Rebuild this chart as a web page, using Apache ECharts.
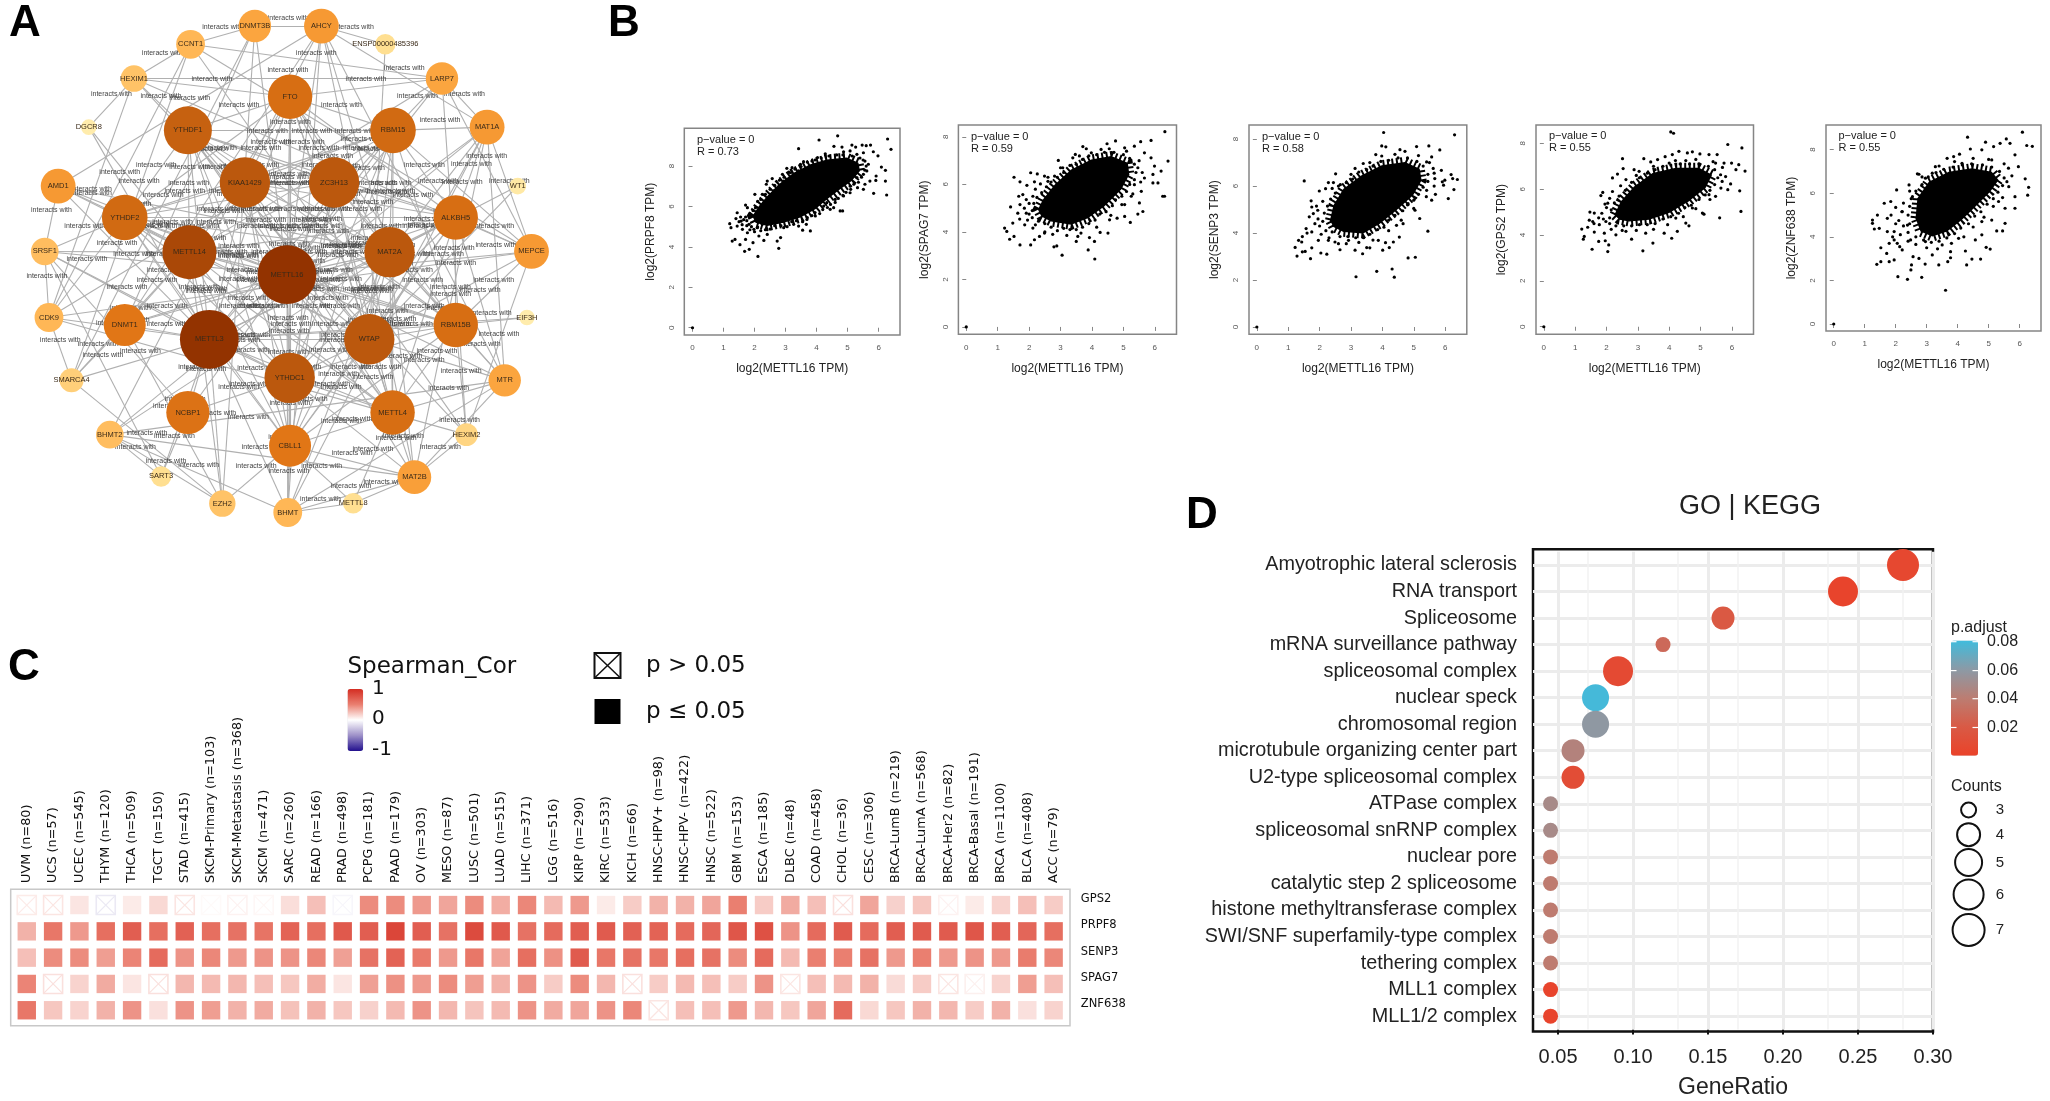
<!DOCTYPE html>
<html>
<head>
<meta charset="utf-8">
<title>METTL16 figure</title>
<script src="https://cdn.jsdelivr.net/npm/echarts@6/dist/echarts.min.js"></script>
<style>
  html, body { margin: 0; padding: 0; background: #fff; }
  #main { width: 2050px; height: 1101px; }
</style>
</head>
<body>
<div id="main"></div>
<script>
// A 网络图
var nodeNames = ['DNMT3B','AHCY','CCNT1','ENSP00000485396','HEXIM1','FTO','LARP7','YTHDF1','RBM15','MAT1A','DGCR8','KIAA1429','ZC3H13','AMD1','WT1','YTHDF2','ALKBH5','SRSF1','METTL14','MAT2A','MEPCE','METTL16','CDK9','DNMT1','EIF3H','RBM15B','METTL3','WTAP','SMARCA4','YTHDC1','MTR','NCBP1','METTL4','BHMT2','HEXIM2','CBLL1','SART3','MAT2B','EZH2','BHMT','METTL8']
var nodeX = [666,840,498,1007,350,758,1155,491,1027,1273,232,640,873,152,1353,326,1191,117,495,1018,1389,750,128,326,1377,1191,547,965,187,757,1319,491,1026,287,1219,758,421,1083,581,752,923]
var nodeY = [73,73,124,124,220,271,220,365,365,356,356,511,511,521,521,609,609,704,706,706,704,769,889,910,889,910,950,950,1065,1058,1065,1155,1155,1217,1217,1248,1334,1336,1410,1435,1409]
var nodeDegree = [17,19,14,7,12,27,17,30,28,19,3,32,32,19,4,28,27,13,35,32,19,39,14,25,3,27,39,32,10,32,17,26,27,13,9,25,7,18,12,14,7]
// 互相全连的几组节点
var linkGroups = [
  ['METTL16','METTL3','METTL14','WTAP','KIAA1429','ZC3H13','RBM15','RBM15B','CBLL1','YTHDC1','YTHDF1','YTHDF2','FTO','ALKBH5','MAT2A','METTL4'],
  ['MEPCE','LARP7','HEXIM1','HEXIM2','CCNT1','CDK9'],
  ['AHCY','MAT1A','MAT2A','MAT2B','MTR','BHMT','BHMT2'],
  ['DNMT1','DNMT3B','EZH2','SMARCA4']
]
var extraLinks = [
  ['METTL16','MAT1A'],['METTL16','MAT2B'],['METTL16','MTR'],['METTL16','AHCY'],['METTL16','BHMT'],
  ['METTL16','DNMT1'],['METTL16','DNMT3B'],['METTL16','AMD1'],['METTL16','MEPCE'],['METTL16','LARP7'],['METTL16','NCBP1'],
  ['METTL16','SRSF1'],['METTL3','DNMT1'],['METTL3','NCBP1'],['METTL3','EZH2'],['METTL3','SRSF1'],['METTL3','CDK9'],
  ['METTL3','DGCR8'],['METTL3','SMARCA4'],['METTL3','AMD1'],['METTL3','SART3'],
  ['METTL3','EIF3H'],['METTL3','BHMT'],['METTL14','DGCR8'],['METTL14','EZH2'],['METTL14','AMD1'],
  ['METTL14','SMARCA4'],['METTL14','DNMT1'],['METTL14','SRSF1'],
  ['MAT2A','AMD1'],['MAT2A','DNMT1'],['MAT2A','WT1'],['AHCY','DNMT1'],['AHCY','DNMT3B'],['AHCY','AMD1'],
  ['AHCY','ENSP00000485396'],['WTAP','WT1'],['WTAP','ENSP00000485396'],['WTAP','MEPCE'],['WTAP','MTR'],
  ['WTAP','MAT1A'],['ALKBH5','MAT1A'],['ALKBH5','MEPCE'],['ALKBH5','MTR'],
  ['RBM15','MAT1A'],['RBM15','LARP7'],['RBM15','MEPCE'],['RBM15B','EIF3H'],['RBM15B','MEPCE'],['RBM15B','HEXIM2'],
  ['RBM15B','MTR'],['FTO','LARP7'],['FTO','HEXIM1'],['YTHDF1','HEXIM1'],
  ['YTHDF2','AMD1'],['YTHDF2','SRSF1'],['YTHDF2','CDK9'],['YTHDC1','SRSF1'],['YTHDC1','MAT2B'],
  ['YTHDC1','BHMT'],['YTHDC1','NCBP1'],['CBLL1','BHMT'],['CBLL1','MAT2B'],['CBLL1','METTL8'],['CBLL1','EZH2'],
  ['NCBP1','SRSF1'],['NCBP1','SART3'],['METTL4','MAT2B'],['METTL4','METTL8'],
  ['METTL4','MTR'],['BHMT','METTL8'],['MAT2B','METTL8'],['MAT2B','HEXIM2'],['SART3','SRSF1'],['SART3','BHMT2'],
  ['EZH2','BHMT2'],['SRSF1','CDK9'],['SRSF1','AMD1'],['CDK9','SMARCA4'],['HEXIM1','DGCR8'],['MEPCE','MAT1A'],
  ['LARP7','MAT1A'],['CCNT1','SMARCA4'],['DNMT3B','CCNT1']
]

// B 散点图：云团外轮廓 + 边缘的点
var scatterGenes = ['PRPF8','SPAG7','SENP3','GPS2','ZNF638']
var scatterR = ['0.73','0.59','0.58','0.55','0.55']
var prpf8Core = [[1.93,5.53],[2.14,6.02],[2.41,6.52],[2.78,7.1],[3.26,7.67],[3.8,8.09],[4.33,8.33],[4.97,8.42],[5.35,8.17],[5.4,7.76],[5.13,7.26],[4.76,6.85],[4.33,6.35],[3.96,5.86],[3.48,5.45],[2.94,5.2],[2.41,5.03],[2.03,5.2]]
var prpf8Points = [[0,0],[4.68,9.5],[4.08,9.29],[3.42,8.86],[6.29,9.34],[6.4,8.83],[4.56,8.98],[5.14,9.04],[5.26,8.94],[5.47,9.04],[5.6,9.01],[5.74,9.04],[4.82,8.94],[5.83,8.71],[5.98,8.51],[6.09,7.95],[6.22,7.79],[5.92,7.51],[5.91,7.29],[6.22,7.26],[5.84,6.65],[6.26,6.57],[5.62,7.76],[5.56,7.1],[5.72,7.26],[5.32,6.93],[5.51,6.85],[5.08,6.68],[4.76,5.78],[4.84,5.78],[4.55,5.94],[4.33,6.19],[4.44,5.86],[3.8,4.79],[3.55,4.83],[3.67,5.12],[2.94,4.95],[2.84,4.46],[2.78,3.93],[2.11,3.53],[1.95,4.21],[1.83,3.88],[1.68,3.78],[1.53,4.11],[1.37,4.37],[1.28,4.29],[1.71,4.37],[1.77,4.7],[1.2,5.15],[1.24,4.95],[1.44,5.03],[1.57,5.28],[1.44,5.69],[1.71,6.07],[1.77,5.94],[2.01,6.6],[2.25,6.6],[2.38,7.1],[2.57,7.38],[2.41,7.26],[2.9,7.59],[3.04,7.89],[3.21,7.92],[3.48,8.09],[3.58,8.22],[3.85,8.25],[4.28,8.61],[4.03,8.42],[4.87,8.71],[5.08,8.75],[5.3,8.58],[5.51,8.66],[2.14,4.54],[2.41,4.62],[2.3,4.32],[2.73,4.29],[3.26,5.12],[3.42,5.03],[1.98,4.87],[1.61,4.87],[1.82,5.12],[2.09,4.95],[1.71,5.48],[1.55,5.48],[2.03,5.94],[2.3,6.19],[2.62,6.77],[2.94,7.26],[3.16,7.67],[3.42,7.76],[5.56,8.25],[5.67,8.09],[5.51,7.59],[5.3,7.43],[5.08,7.01],[4.87,6.52],[4.6,6.35],[4.23,6.02],[3.96,5.53],[3.69,5.36],
  [2.1,4.98],[2.25,5.12],[2.5,4.88],[2.65,5.05],[2.85,5.05],[3.05,5],[3.2,5.25],[3.35,5.3],[3.55,5.25],[3.7,5.45],[3.85,5.55],[3.95,5.7],[4.1,5.65],[4.2,5.85],[4.35,5.95],[4.45,6.1],[4.6,6.2],[4.7,6.4],[4.85,6.55],[4.95,6.7],[5.1,6.85],[5.2,7.1],[5.35,7.2],[5.45,7.45],[5.55,7.8],[5.6,8],[1.75,5.3],[1.85,5.65],[1.95,5.8],[2.1,6.25],[2.2,6.35],[2.35,6.6],[2.5,6.85],[2.65,7.05],[2.8,7.3],[2.95,7.45],[3.1,7.7],[3.3,7.85],[3.5,7.98],[3.7,8.2],[3.95,8.3],[4.15,8.4],[4.4,8.5],[4.65,8.55],[4.85,8.55],[5.15,8.5],[5.4,8.4],[5.5,8.3],[1.6,5.1],[1.75,5.05],[1.9,5],[1.85,4.85],[2,4.75],[2.2,4.8],[2.35,4.85],[1.5,5.25],[1.65,5.35],[1.4,5.4]]
var spag7Core = [[2.28,4.94],[2.44,5.36],[2.81,5.99],[3.34,6.63],[3.98,7.05],[4.61,7.19],[5.14,6.91],[5.19,6.42],[4.93,5.78],[4.4,5.08],[3.87,4.58],[3.34,4.3],[2.7,4.44],[2.39,4.65]]
var spag7Points = [[0,0],[6.32,8.22],[6.42,6.98],[5.88,7.85],[5.55,7.8],[4.75,7.83],[4.48,7.71],[3.71,7.59],[3.82,7.5],[2.93,7.01],[3.47,7.26],[3.39,7.12],[1.52,6.3],[2.05,6.49],[2.26,6.44],[2.49,6.35],[1.71,6.11],[1.93,5.96],[2.17,6.11],[1.8,5.57],[1.67,5.5],[1.71,5.15],[1.41,5.05],[1.91,5.36],[2.12,5.5],[2.36,6.02],[2.6,6.13],[2.81,6.35],[3.07,6.7],[3.98,7.33],[4.29,7.47],[5.04,7.54],[5.35,7.61],[5.67,7.33],[5.88,7.12],[5.99,6.77],[6.2,6.56],[5.94,6.42],[6.1,6.06],[5.94,6.06],[5.67,6.27],[5.57,5.71],[6.25,5.5],[6.31,5.5],[5.51,5.22],[5.62,4.86],[5.46,4.75],[5.04,4.65],[5.22,4.4],[4.8,4.58],[4.56,4.51],[4.51,3.95],[4.26,3.98],[4.08,3.6],[3.92,3.76],[4.09,2.86],[3.88,3.24],[3.5,3.6],[3.55,3.81],[3.05,3.02],[2.88,3.41],[2.79,3.37],[2.49,3.95],[2.33,3.81],[2.05,3.45],[2.17,3.67],[1.71,3.45],[1.38,3.69],[1.52,3.81],[1.22,4.16],[1.29,4.02],[1.48,4.37],[1.7,4.54],[1.86,4.3],[2.12,4.16],[1.64,4.79],[1.91,4.79],[5.04,5.15],[5.25,5.5],[5.35,5.99],[5.46,6.7],
  [2.1,4.9],[2.15,5.2],[2.25,5.45],[2.4,5.65],[2.55,5.9],[2.7,6.1],[2.9,6.3],[3.1,6.5],[3.3,6.8],[3.5,6.85],[3.7,7.05],[3.9,7.2],[4.15,7.25],[4.4,7.35],[4.7,7.35],[5,7.25],[5.2,7.1],[5.35,6.85],[5.4,6.5],[5.35,6.2],[5.2,6],[5.1,5.7],[4.95,5.5],[4.75,5.35],[4.65,5.1],[4.45,4.85],[4.25,4.75],[4.1,4.5],[3.9,4.35],[3.7,4.2],[3.5,4.1],[3.3,4.1],[3.1,4.15],[2.9,4.05],[2.7,4.2],[2.5,4.35],[2.3,4.45],[2.1,4.6],[2,4.75],[1.85,5],[2,5.2],[1.95,4.5],[2.2,4.3],[2.5,4],[2.75,3.9],[3.2,3.85],[3.65,3.95],[4.15,4.2],[4.6,4.7],[4.95,5.15],[5.3,5.6],[5.55,6.1],[5.6,6.5],[5.5,7],[5.1,7.4],[4.55,7.5],[3.6,7.2],[3,6.7],[2.6,6.3],[2.2,5.8]]
var senp3Core = [[2.33,4.54],[2.44,5.18],[2.76,5.89],[3.34,6.46],[3.98,6.89],[4.72,7.03],[5.19,6.74],[5.25,6.25],[4.98,5.61],[4.45,4.97],[3.92,4.4],[3.39,3.98],[2.76,4.05],[2.44,4.26]]
var senp3Points = [[0,0],[4.04,8.28],[6.3,8.18],[3.98,7.71],[4.11,7.67],[3.79,7.34],[3.98,7.28],[4.56,7.55],[4.72,7.48],[5.09,7.68],[5.48,7.71],[5.83,7.54],[5.57,7.24],[1.51,6.22],[2.51,6.52],[3.39,6.96],[3.13,6.75],[2.28,6.15],[2.44,6.15],[2.66,6.06],[1.99,5.79],[2.19,5.89],[1.73,5.37],[1.75,5.11],[1.94,4.97],[1.67,4.69],[1.8,4.83],[1.57,4.19],[1.75,4.05],[1.33,3.69],[1.43,3.62],[1.22,3.39],[1.28,3.02],[1.45,3.2],[1.71,2.91],[1.75,3.37],[1.54,3.22],[2.04,3.15],[2.23,3.1],[1.96,3.69],[2.28,3.69],[2.65,3.29],[2.49,3.62],[3.13,3.27],[3.37,3.12],[3.5,3.38],[3.6,3.37],[3.16,2.14],[3.82,2.37],[4.31,2.47],[4.38,2.12],[4.82,2.94],[5.05,2.97],[4.01,3.27],[4.22,3.38],[4.1,3.59],[4.35,3.62],[4.54,3.83],[4.66,4.4],[5.19,4.62],[5.45,4.08],[5.04,4.97],[5.57,5.4],[5.69,5.65],[6.1,5.47],[6.28,5.85],[5.95,6.04],[5.99,6.25],[6.39,6.28],[6.24,6.32],[6.19,6.49],[5.88,6.67],[5.91,6.18],[5.41,7.03],[5.62,6.75],[5.67,6.32],[5.41,5.82],[4.82,5.25],[4.45,4.33],[2.92,3.69],[3.87,3.69],
  [2.1,4.5],[2.15,4.85],[2.25,5.15],[2.35,5.45],[2.5,5.7],[2.6,6],[2.85,6.15],[3.05,6.3],[3.25,6.6],[3.5,6.7],[3.7,6.85],[3.95,7.05],[4.2,7.1],[4.5,7.2],[4.8,7.2],[5.1,7.05],[5.3,6.85],[5.45,6.5],[5.45,6.2],[5.3,5.95],[5.15,5.65],[5,5.4],[4.8,5.2],[4.65,4.95],[4.4,4.75],[4.2,4.55],[4.05,4.25],[3.85,4.15],[3.6,3.95],[3.4,3.8],[3.15,3.8],[2.9,3.85],[2.65,3.85],[2.4,4.05],[2.2,4.1],[2,4.3],[1.95,4.6],[1.85,4.4],[2.05,3.95],[2.3,3.8],[2.6,3.55],[2.85,3.55],[3.25,3.6],[3.7,3.7],[4.2,4.1],[4.6,4.55],[5,5.05],[5.4,5.55],[5.65,6],[5.65,6.55],[5.5,7],[5.15,7.3],[4.4,7.35],[3.6,7],[3,6.5],[2.4,5.9],[2.1,5.35],[1.9,5.15],[1.6,4],[1.45,3.85]]
var gps2Core = [[2.25,4.88],[2.46,5.47],[2.88,6.12],[3.47,6.71],[4.21,6.93],[4.95,6.93],[5.37,6.63],[5.16,6.05],[4.63,5.47],[4,4.96],[3.36,4.67],[2.72,4.59],[2.41,4.67]]
var gps2Points = [[0,0],[4.05,8.5],[4.14,8.44],[5.87,7.95],[6.32,7.8],[6.42,6.79],[5.99,7.14],[6.22,7.07],[6.13,6.85],[6.25,5.93],[6.29,5.03],[5.61,4.75],[5.87,5.98],[5.96,6.23],[5.69,6.34],[5.48,5.69],[5.06,4.96],[5.11,4.91],[4.53,4.52],[4.63,4.4],[4.26,4.16],[4.08,3.86],[3.48,3.65],[3.16,3.31],[2.8,3.82],[2.04,3.28],[1.54,3.38],[2.07,3.57],[1.75,3.72],[1.96,3.75],[1.26,3.82],[1.29,3.94],[1.21,4.26],[1.4,4.34],[1.61,4.13],[1.93,4.08],[2.3,4.01],[2.62,4.16],[3.25,4.08],[3.84,4.08],[1.47,5],[1.61,4.96],[1.82,5.72],[1.88,5.86],[2.19,6.49],[2.35,6.66],[2.53,6.9],[2.51,7.33],[2.88,6.85],[3.19,7.33],[3.41,7.19],[3.63,7.29],[3.87,7.42],[4.1,7.51],[4.31,7.65],[4.58,7.58],[4.74,7.63],[4.98,7.54],[5.27,7.51],[5.53,7.51],[5.75,7.14],[5.48,7.14],[1.56,4.59],[1.77,4.45],[1.98,4.59],[2.04,5.39],[2.19,5.9],[2.62,6.42],[3.04,6.78],[4,7.14],[4.53,7.25],[5.64,6.63],[5.27,5.76],[4.74,5.18],[4.21,4.74],
  [2.1,4.75],[2.15,5.1],[2.25,5.4],[2.4,5.7],[2.6,5.95],[2.8,6.3],[3.05,6.5],[3.3,6.7],[3.55,6.85],[3.8,7],[4.05,7.05],[4.35,7.1],[4.65,7.1],[4.95,7.1],[5.25,7],[5.45,6.85],[5.55,6.5],[5.45,6.2],[5.3,5.95],[5.15,5.75],[4.95,5.55],[4.7,5.3],[4.5,5.2],[4.3,4.95],[4.05,4.8],[3.8,4.7],[3.55,4.5],[3.3,4.45],[3.05,4.45],[2.8,4.4],[2.55,4.4],[2.3,4.4],[2.1,4.5],[1.9,4.7],[1.85,4.95],[2,5.2],[1.75,4.75],[2.15,4.25],[2.5,4.2],[2.95,4.2],[3.5,4.25],[3.95,4.45],[4.45,4.8],[4.85,5.15],[5.3,5.55],[5.65,6.05],[5.8,6.55],[5.7,6.95],[5.4,7.2],[4.85,7.3],[4.2,7.25],[3.5,7],[2.95,6.6],[2.45,6.15],[2.1,5.6],[1.95,5.35],[1.6,4.5],[1.45,4.65]]
var znf638Core = [[2.64,4.85],[2.7,5.77],[3.07,6.53],[3.71,6.99],[4.46,7.15],[5.1,6.99],[5.32,6.61],[5.05,6.07],[4.52,5.31],[4.14,4.78],[3.66,4.24],[3.18,4.01],[2.8,4.24]]
var znf638Points = [[0,0],[6.09,8.8],[6.23,8.19],[6.41,8.15],[4.32,8.57],[4.9,8.34],[5.57,8.49],[5.69,8.29],[5.37,8.29],[5.16,8.14],[4.41,8.03],[4.78,7.99],[3.87,7.68],[3.66,7.6],[4.06,7.79],[2.75,6.87],[2.7,6.89],[3.28,7.22],[5.85,7.76],[5.96,7.22],[6.18,6.66],[6.29,6.27],[6.26,5.91],[5.85,5.84],[5.85,5.31],[5.53,5.31],[5.1,4.77],[5.53,4.62],[5.26,4.27],[5.45,4.27],[4.78,4.09],[5.05,3.44],[4.92,3.52],[4.74,2.98],[4.46,2.98],[4.29,2.71],[3.77,3.04],[3.39,2.71],[3.68,2.86],[3.61,1.55],[2.95,2.75],[2.84,2.14],[2.38,2.05],[2.07,2.17],[2.49,2.48],[2.51,2.71],[1.79,2.86],[1.95,2.94],[1.52,2.86],[1.39,2.74],[1.71,3.24],[1.79,3.7],[1.52,3.5],[1.95,3.86],[2.13,3.55],[2.21,3.4],[2.56,3.09],[2.75,3.01],[3.18,3.17],[3.77,3.32],[4.25,3.35],[4.57,3.86],[1.25,4.62],[1.25,4.77],[1.41,5],[1.47,4.39],[1.31,4.36],[1.73,4.24],[1.95,4.24],[1.63,5.54],[1.84,5.62],[2.03,6.15],[2.43,6.38],[2.54,5.84],[2.21,5.16],[1.73,4.85],[2.96,6.69],[3.18,6.92],[4.14,7.37],[5.1,7.53],[5.64,7.15],[5.59,6.53],[5.32,5.62],[4.78,4.7],[2.38,4.54],[2.48,3.86],[2.96,3.78],[3.5,3.63],[4.03,3.93],
  [2.45,4.6],[2.4,5],[2.45,5.4],[2.5,5.75],[2.65,6.1],[2.85,6.4],[3.05,6.75],[3.3,6.95],[3.55,7.1],[3.85,7.2],[4.15,7.3],[4.45,7.35],[4.8,7.3],[5.1,7.2],[5.35,7],[5.5,6.7],[5.45,6.35],[5.3,6.05],[5.15,5.75],[4.95,5.5],[4.75,5.15],[4.55,4.95],[4.35,4.6],[4.1,4.4],[3.9,4.15],[3.65,3.95],[3.4,3.8],[3.15,3.75],[2.9,3.85],[2.65,4],[2.4,4.2],[2.25,4.5],[2.1,4.75],[2.2,5.15],[2,4.6],[2.15,4.1],[2.4,3.8],[2.65,3.65],[3,3.5],[3.35,3.45],[3.8,3.7],[4.2,4],[4.5,4.45],[4.85,4.9],[5.15,5.4],[5.45,5.8],[5.65,6.3],[5.75,6.8],[5.5,7.35],[5,7.55],[4.5,7.6],[3.9,7.45],[3.4,7.25],[2.85,6.75],[2.45,6.1],[2.25,5.55],[2,5.35],[1.85,5],[1.9,4],[2.05,3.7]]
var scatterCores = [prpf8Core, spag7Core, senp3Core, gps2Core, znf638Core]
var scatterPoints = [prpf8Points, spag7Points, senp3Points, gps2Points, znf638Points]
var scatterXTicks = [0,1,2,3,4,5,6]
var scatterYTicks = [0,2,4,6,8]

// C 热图
var heatColumns = ['UVM (n=80)','UCS (n=57)','UCEC (n=545)','THYM (n=120)','THCA (n=509)','TGCT (n=150)','STAD (n=415)','SKCM-Primary (n=103)','SKCM-Metastasis (n=368)','SKCM (n=471)','SARC (n=260)','READ (n=166)','PRAD (n=498)','PCPG (n=181)','PAAD (n=179)','OV (n=303)','MESO (n=87)','LUSC (n=501)','LUAD (n=515)','LIHC (n=371)','LGG (n=516)','KIRP (n=290)','KIRC (n=533)','KICH (n=66)','HNSC-HPV+ (n=98)','HNSC-HPV- (n=422)','HNSC (n=522)','GBM (n=153)','ESCA (n=185)','DLBC (n=48)','COAD (n=458)','CHOL (n=36)','CESC (n=306)','BRCA-LumB (n=219)','BRCA-LumA (n=568)','BRCA-Her2 (n=82)','BRCA-Basal (n=191)','BRCA (n=1100)','BLCA (n=408)','ACC (n=79)']
var heatRows = ['GPS2','PRPF8','SENP3','SPAG7','ZNF638']
var gps2Cor = [0.08,0.1,0.1,-0.1,0.08,0.15,0.1,0.02,0.05,0.03,0.13,0.25,-0.04,0.45,0.45,0.4,0.35,0.45,0.32,0.47,0.27,0.4,0.08,0.2,0.3,0.3,0.35,0.5,0.2,0.33,0.25,0.12,0.35,0.18,0.22,0.05,0.08,0.17,0.25,0.2]
var prpf8Cor = [0.3,0.55,0.4,0.6,0.7,0.6,0.68,0.6,0.58,0.57,0.67,0.6,0.73,0.7,0.85,0.7,0.58,0.82,0.73,0.58,0.62,0.7,0.72,0.68,0.67,0.62,0.65,0.75,0.78,0.42,0.62,0.72,0.62,0.7,0.72,0.72,0.75,0.7,0.65,0.6]
var senp3Cor = [0.25,0.45,0.45,0.38,0.48,0.62,0.42,0.47,0.4,0.42,0.42,0.47,0.37,0.58,0.67,0.53,0.4,0.55,0.36,0.6,0.43,0.72,0.55,0.58,0.55,0.6,0.58,0.45,0.62,0.27,0.5,0.5,0.58,0.4,0.5,0.4,0.42,0.4,0.52,0.47]
var spag7Cor = [0.48,0.12,0.17,0.33,0.1,0.12,0.28,0.27,0.28,0.25,0.22,0.32,0.1,0.37,0.43,0.4,0.45,0.38,0.3,0.42,0.2,0.45,0.28,0.12,0.2,0.27,0.25,0.2,0.42,0.1,0.25,0.27,0.3,0.14,0.2,0.1,0.06,0.17,0.38,0.25]
var znf638Cor = [0.55,0.22,0.17,0.3,0.42,0.12,0.42,0.38,0.3,0.33,0.24,0.3,0.22,0.18,0.27,0.42,0.28,0.23,0.27,0.42,0.33,0.35,0.42,0.47,0.1,0.25,0.25,0.4,0.28,0.22,0.35,0.62,0.15,0.22,0.3,0.28,0.2,0.3,0.12,0.17]
var heatValues = [gps2Cor, prpf8Cor, senp3Cor, spag7Cor, znf638Cor]
// p > 0.05 的格子 [列, 行]
var notSignificant = [[0,0],[1,0],[3,0],[6,0],[7,0],[8,0],[9,0],[12,0],[31,0],[35,0],[1,3],[5,3],[23,3],[29,3],[35,3],[36,3],[24,4]]

// D 气泡图
var termNames = ['Amyotrophic lateral sclerosis','RNA transport','Spliceosome','mRNA surveillance pathway','spliceosomal complex','nuclear speck','chromosomal region','microtubule organizing center part','U2-type spliceosomal complex','ATPase complex','spliceosomal snRNP complex','nuclear pore','catalytic step 2 spliceosome','histone methyltransferase complex','SWI/SNF superfamily-type complex','tethering complex','MLL1 complex','MLL1/2 complex']
var geneRatio = [0.28,0.24,0.16,0.12,0.09,0.075,0.075,0.06,0.06,0.045,0.045,0.045,0.045,0.045,0.045,0.045,0.045,0.045]
var termCounts = [7,6,4,3,6,5,5,4,4,3,3,3,3,3,3,3,3,3]
var termPAdjust = [0.006,0.003,0.02,0.03,0.008,0.08,0.06,0.045,0.01,0.05,0.05,0.04,0.04,0.04,0.04,0.04,0.003,0.003]
var ratioTicks = [0.05,0.1,0.15,0.2,0.25,0.3]
var ratioMinorTicks = [0.075,0.125,0.175,0.225,0.275]
var pAdjustTicks = ['0.08','0.06','0.04','0.02']
var countLevels = [3,4,5,6,7]
var countSize = { 3: 15, 4: 23, 5: 27, 6: 30, 7: 32 }

var FONT_R = '"Liberation Sans", Arial, sans-serif'
var FONT_V = '"DejaVu Sans", sans-serif'

var grids = [], xAxes = [], yAxes = [], series = [], visualMaps = [], graphics = []

function txt(x, y, text, font, align, color) {
  graphics.push({
    type: 'text', x: x, y: y, z: 100, silent: true,
    style: { text: text, font: font, fill: color || '#111', textAlign: align || 'left', textVerticalAlign: 'middle' }
  })
}

function addGrid(box) {
  box.outerBoundsMode = 'none'
  grids.push(box)
  return grids.length - 1
}

// 只有外框的空 grid
function addFrame(left, top, width, height, color, borderWidth) {
  var g = addGrid({ left: left, top: top, width: width, height: height, show: true, borderColor: color, borderWidth: borderWidth, backgroundColor: 'transparent' })
  xAxes.push({ gridIndex: g, type: 'value', show: false, min: 0, max: 1 })
  yAxes.push({ gridIndex: g, type: 'value', show: false, min: 0, max: 1 })
}

// ---------- A ----------
function buildNetwork() {
  var g = addGrid({ left: 0, top: 0, width: 600, height: 560 })
  xAxes.push({ gridIndex: g, type: 'value', show: false, min: 0, max: 1568 })
  yAxes.push({ gridIndex: g, type: 'value', show: false, min: 0, max: 1568, inverse: true })

  var ramp = ['#fff6c0', '#ffdc8c', '#ffae48', '#ea7d18', '#c05c0e', '#933300']
  var links = []
  linkGroups.forEach(function (group) {
    group.forEach(function (a, i) {
      group.slice(i + 1).forEach(function (b) { links.push({ source: a, target: b }) })
    })
  })
  extraLinks.forEach(function (p) { links.push({ source: p[0], target: p[1] }) })

  // 边和边上的文字放一层，节点放上面一层盖住它们
  series.push({
    type: 'graph',
    coordinateSystem: 'cartesian2d',
    xAxisIndex: g, yAxisIndex: g,
    layout: 'none',
    silent: true,
    z: 1,
    symbolSize: 1,
    itemStyle: { opacity: 0 },
    data: nodeNames.map(function (name, i) { return { name: name, value: [nodeX[i], nodeY[i]] } }),
    links: links,
    label: { show: false },
    edgeLabel: { show: true, rotate: 0, formatter: 'interacts with', fontSize: 7, fontFamily: FONT_R, color: '#444' },
    lineStyle: { color: '#b0b0b0', width: 1.1, opacity: 1, curveness: 0 }
  })
  series.push({
    type: 'scatter', xAxisIndex: g, yAxisIndex: g, silent: true, z: 3,
    data: nodeNames.map(function (name, i) { return [nodeX[i], nodeY[i], nodeDegree[i], name] }),
    symbolSize: function (v) { return 12 + v[2] * 1.2 },
    itemStyle: {
      opacity: 1,
      color: function (p) { return echarts.color.lerp(p.value[2] / 39, ramp) }
    },
    label: {
      show: true, position: 'inside', fontSize: 7.5, fontFamily: FONT_R, color: '#3a2a18',
      formatter: function (p) { return p.value[3] }
    }
  })
}

// ---------- B ----------
var scatterBoxes = [
  { left: 684.3, top: 128.3, width: 215.7, height: 206.7, xMin: -0.265, xMax: 6.69, yMin: -0.36, yMax: 9.87, textX: 697, textY: 140 },
  { left: 958.4, top: 125, width: 218.1, height: 209.3, xMin: -0.25, xMax: 6.69, yMin: -0.31, yMax: 8.5, textX: 971, textY: 137 },
  { left: 1249, top: 125, width: 217.8, height: 209.3, xMin: -0.25, xMax: 6.69, yMin: -0.31, yMax: 8.6, textX: 1262, textY: 137 },
  { left: 1536, top: 125, width: 217.5, height: 209.3, xMin: -0.25, xMax: 6.69, yMin: -0.33, yMax: 8.8, textX: 1549, textY: 136 },
  { left: 1826, top: 125, width: 215, height: 206, xMin: -0.25, xMax: 6.69, yMin: -0.32, yMax: 9.13, textX: 1838.5, textY: 136 }
]

function buildScatter(k) {
  var box = scatterBoxes[k]
  var g = addGrid({ left: box.left, top: box.top, width: box.width, height: box.height, show: true, borderColor: '#858585', borderWidth: 1.5 })
  xAxes.push({
    gridIndex: g, type: 'value', min: box.xMin, max: box.xMax,
    name: 'log2(METTL16 TPM)', nameLocation: 'middle', nameGap: 28,
    nameTextStyle: { fontFamily: FONT_R, fontSize: 12, color: '#222' },
    axisLine: { show: false }, splitLine: { show: false },
    axisTick: { show: true, length: 4, lineStyle: { color: '#888' }, customValues: scatterXTicks },
    axisLabel: { fontFamily: FONT_R, fontSize: 8, color: '#555', margin: 9, customValues: scatterXTicks }
  })
  yAxes.push({
    gridIndex: g, type: 'value', min: box.yMin, max: box.yMax,
    name: 'log2(' + scatterGenes[k] + ' TPM)', nameLocation: 'middle', nameGap: 28,
    nameTextStyle: { fontFamily: FONT_R, fontSize: 12, color: '#222' },
    axisLine: { show: false }, splitLine: { show: false },
    axisTick: { show: true, length: 4, lineStyle: { color: '#888' }, customValues: scatterYTicks },
    axisLabel: { fontFamily: FONT_R, fontSize: 8, color: '#555', margin: 9, rotate: 90, customValues: scatterYTicks }
  })
  // 点太密的地方直接填成一块，粗虚线描边让边缘发毛
  var core = scatterCores[k]
  series.push({
    type: 'custom', xAxisIndex: g, yAxisIndex: g, silent: true,
    data: [core[0]],
    renderItem: function (params, api) {
      return {
        type: 'polygon',
        shape: { points: core.map(function (p) { return api.coord(p) }) },
        style: { fill: '#000', stroke: '#000', lineWidth: 10, lineDash: [2, 2.5] }
      }
    }
  })
  series.push({
    type: 'scatter', xAxisIndex: g, yAxisIndex: g, silent: true,
    symbolSize: 3.2, itemStyle: { color: '#000', opacity: 1 },
    data: scatterPoints[k]
  })
  txt(box.textX, box.textY, 'p\u2212value = 0', '11px ' + FONT_R, 'left', '#222')
  txt(box.textX, box.textY + 12, 'R = ' + scatterR[k], '11px ' + FONT_R, 'left', '#222')
}

// ---------- C ----------
function buildHeat() {
  addFrame(10.7, 889.3, 1059.3, 136.4, '#c8c8c8', 1.5)
  var g = addGrid({ left: 13.6, top: 891.9, width: 1053.2, height: 131.5 })
  xAxes.push({
    gridIndex: g, type: 'category', position: 'top', data: heatColumns,
    axisLine: { show: false },
    axisTick: { length: 5, lineStyle: { color: '#bbb' }, alignWithLabel: true },
    axisLabel: { interval: 0, rotate: -90, fontFamily: FONT_V, fontSize: 12.8, color: '#111', margin: 9 }
  })
  yAxes.push({
    gridIndex: g, type: 'category', position: 'right', inverse: true, data: heatRows,
    axisLine: { show: false },
    axisTick: { length: 5, lineStyle: { color: '#bbb' }, alignWithLabel: true },
    axisLabel: { fontFamily: FONT_V, fontSize: 11.5, color: '#111', margin: 14, verticalAlign: 'bottom' }
  })
  var isNs = {}
  notSignificant.forEach(function (p) { isNs[p[0] + '_' + p[1]] = 1 })
  var cells = []
  heatValues.forEach(function (row, r) {
    row.forEach(function (v, c) { cells.push([c, r, v, isNs[c + '_' + r] ? 1 : 0]) })
  })
  series.push({
    type: 'custom', xAxisIndex: g, yAxisIndex: g, silent: true, data: cells,
    encode: { x: 0, y: 1 },
    renderItem: function (params, api) {
      var p = api.coord([api.value(0), api.value(1)])
      var color = api.visual('color')
      if (api.value(3)) {
        var h = 9.5
        return {
          type: 'group',
          children: [
            { type: 'rect', shape: { x: p[0] - h, y: p[1] - h, width: 2 * h, height: 2 * h }, style: { fill: 'none', stroke: color, lineWidth: 1.6 } },
            { type: 'line', shape: { x1: p[0] - h, y1: p[1] - h, x2: p[0] + h, y2: p[1] + h }, style: { stroke: color, lineWidth: 1.2 } },
            { type: 'line', shape: { x1: p[0] - h, y1: p[1] + h, x2: p[0] + h, y2: p[1] - h }, style: { stroke: color, lineWidth: 1.2 } }
          ]
        }
      }
      return { type: 'rect', shape: { x: p[0] - 9.2, y: p[1] - 9.2, width: 18.4, height: 18.4 }, style: { fill: color } }
    }
  })
  visualMaps.push({
    type: 'continuous', seriesIndex: series.length - 1, dimension: 2, min: -1, max: 1,
    left: 332.5, top: 674, itemWidth: 15.7, itemHeight: 62, showLabel: false, text: null, calculable: false,
    inRange: { color: ['#22108e', '#9d90c8', '#ffffff', '#ea7f70', '#d42d22'] }
  })
  txt(347.5, 667, 'Spearman_Cor', '23px ' + FONT_V)
  txt(372, 689, '1', '20px ' + FONT_V)
  txt(372, 719, '0', '20px ' + FONT_V)
  txt(372, 750, '-1', '20px ' + FONT_V)
  // 显著性图例
  graphics.push({ type: 'rect', z: 100, silent: true, shape: { x: 594.5, y: 653, width: 26, height: 25 }, style: { fill: '#fff', stroke: '#111', lineWidth: 2 } })
  graphics.push({ type: 'line', z: 100, silent: true, shape: { x1: 594.5, y1: 653, x2: 620.5, y2: 678 }, style: { stroke: '#111', lineWidth: 1.5 } })
  graphics.push({ type: 'line', z: 100, silent: true, shape: { x1: 594.5, y1: 678, x2: 620.5, y2: 653 }, style: { stroke: '#111', lineWidth: 1.5 } })
  graphics.push({ type: 'rect', z: 100, silent: true, shape: { x: 594.5, y: 699, width: 26, height: 25 }, style: { fill: '#000' } })
  txt(646, 665.7, 'p > 0.05', '23px ' + FONT_V)
  txt(646, 711.7, 'p \u2264 0.05', '23px ' + FONT_V)
}

// ---------- D ----------
function buildDots() {
  var g = addGrid({ left: 1533, top: 551.7, width: 400, height: 477.7 })
  xAxes.push({
    gridIndex: g, type: 'value', min: 0.0333, max: 0.3,
    name: 'GeneRatio', nameLocation: 'middle', nameGap: 47,
    nameTextStyle: { fontFamily: FONT_R, fontSize: 23, color: '#222' },
    axisLine: { show: false }, splitLine: { show: false },
    axisTick: { show: true, length: 5, lineStyle: { color: '#111', width: 2 }, customValues: ratioTicks },
    axisLabel: {
      fontFamily: FONT_R, fontSize: 20, color: '#222', margin: 18, customValues: ratioTicks,
      formatter: function (v) { return v.toFixed(2) }
    }
  })
  yAxes.push({
    gridIndex: g, type: 'category', inverse: true, data: termNames,
    axisLine: { show: false }, splitLine: { show: false },
    axisTick: { length: 9, lineStyle: { color: '#111', width: 2.5 }, alignWithLabel: true },
    axisLabel: { interval: 0, fontFamily: FONT_R, fontSize: 19.8, color: '#222', margin: 16 }
  })
  // 网格线
  var lines = []
  termNames.forEach(function (t) { lines.push({ yAxis: t, lineStyle: { color: '#ececec', width: 3, type: 'solid' } }) })
  ratioTicks.forEach(function (v) { lines.push({ xAxis: v, lineStyle: { color: '#ececec', width: 3, type: 'solid' } }) })
  ratioMinorTicks.forEach(function (v) { lines.push({ xAxis: v, lineStyle: { color: '#f2f2f2', width: 1.5, type: 'solid' } }) })
  series.push({
    type: 'scatter', xAxisIndex: g, yAxisIndex: g, silent: true, data: [], z: 1,
    markLine: { silent: true, symbol: 'none', label: { show: false }, animation: false, data: lines }
  })
  series.push({
    type: 'scatter', xAxisIndex: g, yAxisIndex: g, silent: true, z: 5,
    data: termNames.map(function (t, i) { return [geneRatio[i], i, termCounts[i], termPAdjust[i]] }),
    symbolSize: function (v) { return countSize[v[2]] },
    itemStyle: { opacity: 1 }
  })
  visualMaps.push({
    type: 'continuous', seriesIndex: series.length - 1, dimension: 3, min: 0.001, max: 0.0816,
    left: 1936, top: 625.4, itemWidth: 27, itemHeight: 115.4, showLabel: false, text: null, calculable: false,
    inRange: { color: ['#ea4229', '#d95a45', '#bc7d72', '#8b9aa6', '#3fbcdd'] }
  })
  addFrame(1533, 549.2, 400, 482.4, '#111', 2.5)

  txt(1750, 507, 'GO | KEGG', '27px ' + FONT_R, 'center', '#222')
  txt(1951, 627.5, 'p.adjust', '16px ' + FONT_R, 'left', '#222')
  var tickY = [641.7, 670.6, 698.7, 727.5]
  pAdjustTicks.forEach(function (label, i) {
    txt(1987, tickY[i], label, '16px ' + FONT_R, 'left', '#222')
    graphics.push({ type: 'line', z: 100, silent: true, shape: { x1: 1951, y1: tickY[i], x2: 1956.5, y2: tickY[i] }, style: { stroke: '#fff', lineWidth: 1.2 } })
    graphics.push({ type: 'line', z: 100, silent: true, shape: { x1: 1972.5, y1: tickY[i], x2: 1978, y2: tickY[i] }, style: { stroke: '#fff', lineWidth: 1.2 } })
  })
  txt(1951, 787, 'Counts', '16px ' + FONT_R, 'left', '#222')
  var legendY = [810, 834.7, 862.4, 894.4, 930]
  countLevels.forEach(function (c, i) {
    graphics.push({ type: 'circle', z: 100, silent: true, shape: { cx: 1968.6, cy: legendY[i], r: countSize[c] / 2 }, style: { fill: '#fff', stroke: '#111', lineWidth: 2 } })
    txt(2000, legendY[i], String(c), '15px ' + FONT_R, 'center', '#222')
  })
}

buildNetwork()
scatterGenes.forEach(function (g, k) { buildScatter(k) })
buildHeat()
buildDots()

// 面板字母
txt(9, 24, 'A', 'bold 44px ' + FONT_R, 'left', '#000')
txt(608, 24, 'B', 'bold 44px ' + FONT_R, 'left', '#000')
txt(8, 668, 'C', 'bold 44px ' + FONT_R, 'left', '#000')
txt(1186, 516, 'D', 'bold 44px ' + FONT_R, 'left', '#000')

var chart = echarts.init(document.getElementById('main'))
chart.setOption({
  backgroundColor: '#fff',
  animation: false,
  grid: grids,
  xAxis: xAxes,
  yAxis: yAxes,
  visualMap: visualMaps,
  series: series,
  graphic: graphics
})
</script>
</body>
</html>
